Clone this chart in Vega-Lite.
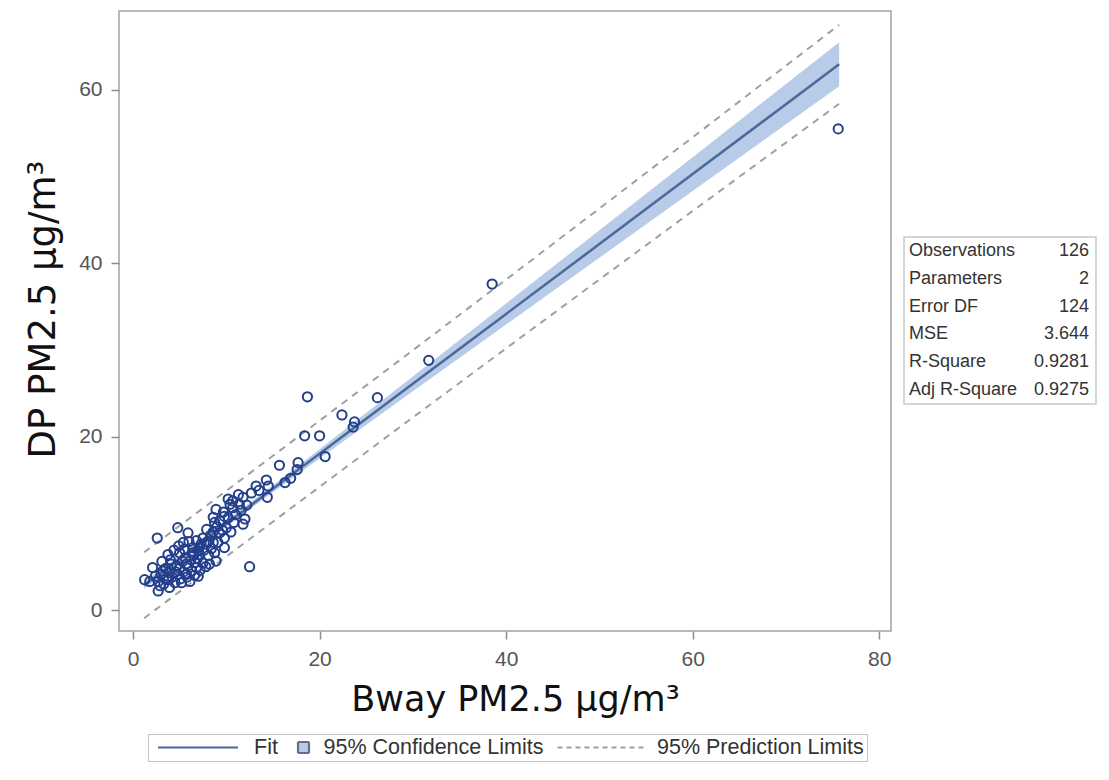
{
  "$schema": "https://vega.github.io/schema/vega-lite/v6.json",
  "background": "white",
  "padding": {"left": 23, "top": 10, "right": 0, "bottom": 0},
  "spacing": 11,
  "config": {
    "font": "Liberation Sans",
    "view": {"stroke": "#a3a3a3", "strokeWidth": 1.5},
    "axis": {
      "grid": false,
      "domain": false,
      "tickColor": "#8c8c8c",
      "tickWidth": 1.5,
      "tickSize": 8,
      "labelFont": "Liberation Sans",
      "labelFontSize": 21,
      "labelColor": "#555555",
      "labelPadding": 9,
      "titleFont": "DejaVu Sans",
      "titleFontSize": 35,
      "titleFontWeight": "normal",
      "titleColor": "#111111"
    },
    "legend": {
      "orient": "none",
      "legendX": 29,
      "legendY": 723,
      "direction": "horizontal",
      "strokeColor": "#c4c4c4",
      "fillColor": "white",
      "padding": 3,
      "clipHeight": 21,
      "symbolStrokeWidth": 2.2,
      "symbolOpacity": 1,
      "labelFont": "Liberation Sans",
      "labelFontSize": 21.5,
      "labelLimit": 0,
      "labelColor": "#333333",
      "labelOffset": 12,
      "columnPadding": 12
    }
  },
  "datasets": {
    "obs": [
      {"bway": 75.6, "dp": 55.5}, {"bway": 38.5, "dp": 37.6}, {"bway": 31.7, "dp": 28.8}, {"bway": 26.2, "dp": 24.5},
      {"bway": 18.7, "dp": 24.6}, {"bway": 22.4, "dp": 22.5}, {"bway": 23.75, "dp": 21.7}, {"bway": 23.6, "dp": 21.1},
      {"bway": 18.4, "dp": 20.1}, {"bway": 20.0, "dp": 20.1}, {"bway": 20.6, "dp": 17.7}, {"bway": 15.7, "dp": 16.7},
      {"bway": 17.7, "dp": 17.0}, {"bway": 17.6, "dp": 16.2}, {"bway": 16.9, "dp": 15.2}, {"bway": 16.3, "dp": 14.7},
      {"bway": 14.3, "dp": 15.0}, {"bway": 14.5, "dp": 14.3}, {"bway": 13.2, "dp": 14.3}, {"bway": 14.4, "dp": 13.0},
      {"bway": 12.7, "dp": 13.5}, {"bway": 11.8, "dp": 13.0}, {"bway": 11.3, "dp": 13.3}, {"bway": 10.2, "dp": 12.8},
      {"bway": 11.4, "dp": 12.2}, {"bway": 10.7, "dp": 11.8}, {"bway": 8.9, "dp": 11.6}, {"bway": 8.6, "dp": 10.7},
      {"bway": 9.8, "dp": 10.8}, {"bway": 11.8, "dp": 9.9}, {"bway": 10.0, "dp": 9.5}, {"bway": 7.9, "dp": 9.3},
      {"bway": 4.8, "dp": 9.5}, {"bway": 2.6, "dp": 8.3}, {"bway": 5.9, "dp": 8.9}, {"bway": 7.5, "dp": 8.3},
      {"bway": 9.8, "dp": 8.3}, {"bway": 8.6, "dp": 7.8}, {"bway": 9.8, "dp": 7.2}, {"bway": 5.4, "dp": 7.8},
      {"bway": 6.4, "dp": 7.2}, {"bway": 3.75, "dp": 6.4}, {"bway": 5.0, "dp": 6.6}, {"bway": 7.1, "dp": 6.4},
      {"bway": 8.75, "dp": 6.6}, {"bway": 8.9, "dp": 5.65}, {"bway": 8.2, "dp": 5.3}, {"bway": 12.5, "dp": 5.0},
      {"bway": 2.1, "dp": 4.9}, {"bway": 3.2, "dp": 4.5}, {"bway": 4.1, "dp": 5.3}, {"bway": 5.7, "dp": 5.3},
      {"bway": 6.8, "dp": 4.9}, {"bway": 1.25, "dp": 3.5}, {"bway": 1.8, "dp": 3.3}, {"bway": 2.7, "dp": 3.3},
      {"bway": 3.6, "dp": 3.7}, {"bway": 4.8, "dp": 4.1}, {"bway": 5.7, "dp": 4.1}, {"bway": 7.0, "dp": 3.9},
      {"bway": 2.7, "dp": 2.2}, {"bway": 4.5, "dp": 3.15}, {"bway": 5.2, "dp": 3.15}, {"bway": 6.1, "dp": 3.3},
      {"bway": 3.0, "dp": 4.1}, {"bway": 3.9, "dp": 4.3}, {"bway": 7.1, "dp": 7.2}, {"bway": 7.9, "dp": 7.6},
      {"bway": 6.8, "dp": 8.0}, {"bway": 9.3, "dp": 8.9}, {"bway": 8.75, "dp": 10.1}, {"bway": 10.2, "dp": 10.65},
      {"bway": 10.7, "dp": 12.6}, {"bway": 10.4, "dp": 12.2}, {"bway": 3.3, "dp": 3.0}, {"bway": 3.8, "dp": 3.5},
      {"bway": 4.2, "dp": 3.8}, {"bway": 4.6, "dp": 4.4}, {"bway": 5.0, "dp": 4.8}, {"bway": 5.3, "dp": 5.6},
      {"bway": 5.6, "dp": 6.0}, {"bway": 5.9, "dp": 5.1}, {"bway": 6.2, "dp": 5.8}, {"bway": 6.5, "dp": 6.3},
      {"bway": 6.7, "dp": 5.5}, {"bway": 7.0, "dp": 6.8}, {"bway": 7.3, "dp": 7.6}, {"bway": 7.6, "dp": 6.9},
      {"bway": 8.0, "dp": 7.9}, {"bway": 8.3, "dp": 8.6}, {"bway": 8.6, "dp": 9.0}, {"bway": 9.0, "dp": 9.6},
      {"bway": 9.3, "dp": 10.3}, {"bway": 9.6, "dp": 9.2}, {"bway": 4.0, "dp": 5.8}, {"bway": 4.4, "dp": 6.9},
      {"bway": 4.9, "dp": 7.4}, {"bway": 5.5, "dp": 7.0}, {"bway": 6.0, "dp": 7.9}, {"bway": 6.3, "dp": 4.5},
      {"bway": 6.6, "dp": 4.0}, {"bway": 7.2, "dp": 4.6}, {"bway": 7.8, "dp": 5.0}, {"bway": 3.5, "dp": 4.8},
      {"bway": 2.4, "dp": 3.9}, {"bway": 2.9, "dp": 2.8}, {"bway": 3.9, "dp": 2.6}, {"bway": 5.1, "dp": 3.6},
      {"bway": 5.8, "dp": 3.8}, {"bway": 6.9, "dp": 5.9}, {"bway": 7.5, "dp": 5.4}, {"bway": 8.1, "dp": 6.3},
      {"bway": 8.4, "dp": 7.1}, {"bway": 9.1, "dp": 7.8}, {"bway": 10.5, "dp": 9.0}, {"bway": 11.0, "dp": 11.0},
      {"bway": 11.6, "dp": 11.5}, {"bway": 12.2, "dp": 12.1}, {"bway": 10.8, "dp": 10.1}, {"bway": 9.7, "dp": 11.3},
      {"bway": 12.0, "dp": 10.5}, {"bway": 13.5, "dp": 13.8}, {"bway": 3.1, "dp": 5.6}, {"bway": 4.7, "dp": 5.1},
      {"bway": 5.4, "dp": 4.4}, {"bway": 6.4, "dp": 6.6}
    ],
    "fit": [
      {"x": 1.2, "fit": 2.858, "clo": 2.411, "chi": 3.305, "plo": -0.946, "phi": 6.662},
      {"x": 5, "fit": 5.923, "clo": 5.554, "chi": 6.292, "plo": 2.127, "phi": 9.719},
      {"x": 9, "fit": 9.149, "clo": 8.812, "chi": 9.486, "plo": 5.356, "phi": 12.942},
      {"x": 15, "fit": 13.989, "clo": 13.584, "chi": 14.394, "plo": 10.189, "phi": 17.789},
      {"x": 20, "fit": 18.022, "clo": 17.488, "chi": 18.556, "plo": 14.206, "phi": 21.838},
      {"x": 30, "fit": 26.088, "clo": 25.228, "chi": 26.948, "plo": 22.213, "phi": 29.963},
      {"x": 40, "fit": 34.154, "clo": 32.939, "chi": 35.369, "plo": 30.185, "phi": 38.123},
      {"x": 50, "fit": 42.22, "clo": 40.64, "chi": 43.8, "plo": 38.125, "phi": 46.315},
      {"x": 60, "fit": 50.286, "clo": 48.336, "chi": 52.236, "plo": 46.035, "phi": 54.537},
      {"x": 70, "fit": 58.352, "clo": 56.03, "chi": 60.674, "plo": 53.918, "phi": 62.786},
      {"x": 75.7, "fit": 62.95, "clo": 60.416, "chi": 65.484, "plo": 58.401, "phi": 67.499}
    ],
    "legendItems": [
      {"code": 1, "item": "Fit"},
      {"code": 2, "item": "95% Confidence Limits"},
      {"code": 3, "item": "95% Prediction Limits"}
    ],
    "stats": [
      {"order": 1, "stat": "Observations", "value": "126"},
      {"order": 2, "stat": "Parameters", "value": "2"},
      {"order": 3, "stat": "Error DF", "value": "124"},
      {"order": 4, "stat": "MSE", "value": "3.644"},
      {"order": 5, "stat": "R-Square", "value": "0.9281"},
      {"order": 6, "stat": "Adj R-Square", "value": "0.9275"}
    ]
  },
  "hconcat": [
    {
      "width": 772,
      "height": 620,
      "layer": [
        {
          "data": {"name": "fit"},
          "mark": {"type": "area", "color": "#b8cbe8", "opacity": 1},
          "encoding": {
            "x": {
              "field": "x", "type": "quantitative",
              "scale": {"domain": [-1.5, 81.26], "nice": false, "zero": false},
              "axis": {"values": [0, 20, 40, 60, 80], "title": "Bway PM2.5 μg/m³", "titlePadding": 13, "titleX": 396}
            },
            "y": {
              "field": "clo", "type": "quantitative",
              "scale": {"domain": [-2.42, 69.1], "nice": false, "zero": false},
              "axis": {"values": [0, 20, 40, 60], "title": "DP PM2.5 μg/m³", "titlePadding": 16, "titleY": 298, "titleFontSize": 37}
            },
            "y2": {"field": "chi"}
          }
        },
        {
          "data": {"name": "fit"},
          "mark": {"type": "line", "color": "#a0a0a0", "strokeWidth": 2, "strokeDash": [7, 6]},
          "encoding": {
            "x": {"field": "x", "type": "quantitative"},
            "y": {"field": "phi", "type": "quantitative"}
          }
        },
        {
          "data": {"name": "fit"},
          "mark": {"type": "line", "color": "#a0a0a0", "strokeWidth": 2, "strokeDash": [7, 6]},
          "encoding": {
            "x": {"field": "x", "type": "quantitative"},
            "y": {"field": "plo", "type": "quantitative"}
          }
        },
        {
          "data": {"name": "fit"},
          "mark": {"type": "line", "color": "#4a6898", "strokeWidth": 2.5},
          "encoding": {
            "x": {"field": "x", "type": "quantitative"},
            "y": {"field": "fit", "type": "quantitative"}
          }
        },
        {
          "data": {"name": "obs"},
          "mark": {"type": "point", "shape": "circle", "filled": false, "size": 85, "strokeWidth": 2, "color": "#233e8b", "opacity": 1},
          "encoding": {
            "x": {"field": "bway", "type": "quantitative"},
            "y": {"field": "dp", "type": "quantitative"}
          }
        },
        {
          "data": {"name": "legendItems"},
          "mark": {"type": "point", "opacity": 0},
          "encoding": {
            "size": {
              "field": "code", "type": "quantitative",
              "scale": {"type": "threshold", "domain": [1.5, 2.5], "range": [7744, 121, 7396]},
              "legend": {"title": null, "type": "symbol", "values": [1, 2, 3], "labelExpr": "datum.value == 1 ? 'Fit' : datum.value == 2 ? '95% Confidence Limits' : '95% Prediction Limits'"}
            },
            "fill": {
              "field": "code", "type": "quantitative",
              "scale": {"type": "threshold", "domain": [1.5, 2.5], "range": ["transparent", "#b8cbe8", "transparent"]},
              "legend": {"title": null, "type": "symbol", "values": [1, 2, 3], "labelExpr": "datum.value == 1 ? 'Fit' : datum.value == 2 ? '95% Confidence Limits' : '95% Prediction Limits'"}
            },
            "stroke": {
              "field": "code", "type": "quantitative",
              "scale": {"type": "threshold", "domain": [1.5, 2.5], "range": ["#4a6898", "#5c6f94", "#a0a0a0"]},
              "legend": {"title": null, "type": "symbol", "values": [1, 2, 3], "labelExpr": "datum.value == 1 ? 'Fit' : datum.value == 2 ? '95% Confidence Limits' : '95% Prediction Limits'"}
            },
            "shape": {
              "field": "code", "type": "quantitative",
              "scale": {"type": "threshold", "domain": [1.5, 2.5], "range": ["M-0.875,0H0.943", "M-0.5,-1h2v2h-2z", "stroke"]},
              "legend": {"title": null, "type": "symbol", "values": [1, 2, 3], "labelExpr": "datum.value == 1 ? 'Fit' : datum.value == 2 ? '95% Confidence Limits' : '95% Prediction Limits'"}
            },
            "strokeDash": {
              "field": "code", "type": "quantitative",
              "scale": {"type": "threshold", "domain": [1.5, 2.5], "range": [[1, 0], [1, 0], [5, 4]]},
              "legend": {"title": null, "type": "symbol", "values": [1, 2, 3], "labelExpr": "datum.value == 1 ? 'Fit' : datum.value == 2 ? '95% Confidence Limits' : '95% Prediction Limits'"}
            }
          }
        }
      ]
    },
    {
      "width": 192,
      "height": 620,
      "view": {"stroke": null},
      "layer": [
        {
          "data": {"values": [{"top": 0.5, "bottom": 6.5}]},
          "mark": {"type": "rect", "fill": "white", "stroke": "#c8c8c8", "strokeWidth": 1.5},
          "encoding": {
            "x": {"datum": 0, "type": "quantitative", "scale": {"domain": [0, 1]}, "axis": null},
            "x2": {"datum": 1},
            "y": {"field": "top", "type": "quantitative", "scale": {"domain": [-7.62, 14.66], "reverse": true, "nice": false, "zero": false}, "axis": null},
            "y2": {"field": "bottom"}
          }
        },
        {
          "data": {"name": "stats"},
          "mark": {"type": "text", "align": "left", "baseline": "middle", "dx": 5, "fontSize": 18, "color": "#333333"},
          "encoding": {
            "x": {"datum": 0, "type": "quantitative"},
            "y": {"field": "order", "type": "quantitative"},
            "text": {"field": "stat"}
          }
        },
        {
          "data": {"name": "stats"},
          "mark": {"type": "text", "align": "right", "baseline": "middle", "dx": -7, "fontSize": 18, "color": "#333333"},
          "encoding": {
            "x": {"datum": 1, "type": "quantitative"},
            "y": {"field": "order", "type": "quantitative"},
            "text": {"field": "value"}
          }
        }
      ]
    }
  ]
}
